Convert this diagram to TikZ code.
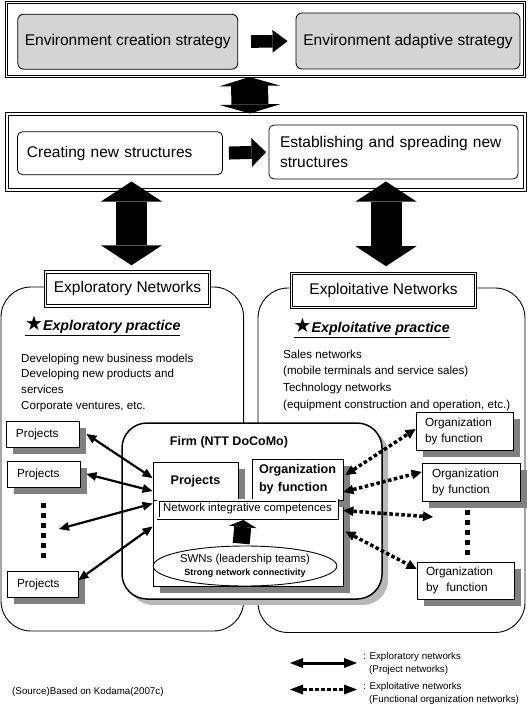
\documentclass[tikz,border=0pt]{standalone}
\usepackage{fontspec}
\setmainfont{Liberation Sans}
\newfontfamily\symfont{DejaVu Sans}
\usetikzlibrary{arrows.meta,shapes.geometric,shadows}

\begin{document}
\begin{tikzpicture}[x=1pt,y=-1pt,
    frame/.style={draw,double,line width=1pt,double distance=1.6pt,inner sep=0pt},
    graybox/.style={draw,fill=black!17,rounded corners=6pt,line width=0.8pt,
      font=\fontsize{15.5}{18}\selectfont},
    plainbox/.style={draw,fill=white,rounded corners=5pt,line width=0.8pt,align=left,
      font=\fontsize{15.5}{20}\selectfont},
    titlebox/.style={draw,double,line width=1pt,double distance=1.4pt,fill=white,
      font=\fontsize{15.5}{18}\selectfont},
    region/.style={draw,rounded corners=30pt,line width=0.9pt},
    practice/.style={inner sep=0pt,font=\fontsize{14.2}{17}\selectfont\bfseries},
    bodytext/.style={inner sep=0pt,align=left,font=\fontsize{11.6}{#1}\selectfont},
    smallbox/.style={draw,fill=white,line width=0.8pt,align=left,inner ysep=0pt,
      drop shadow={shadow xshift=7pt,shadow yshift=-7pt,fill=black!50,opacity=1},
      font=\fontsize{11.8}{16}\selectfont},
    firmbox/.style={draw,fill=white,rounded corners=25pt,line width=1.5pt,
      drop shadow={shadow xshift=6pt,shadow yshift=-6pt,fill=black!28,opacity=1}},
    innerbox/.style={draw,fill=white,line width=0.9pt,inner sep=0pt,
      drop shadow={shadow xshift=7pt,shadow yshift=-7pt,fill=black!50,opacity=1},
      font=\fontsize{12.6}{18}\selectfont\bfseries},
    nicbox/.style={draw,double,line width=0.9pt,double distance=1.2pt,fill=white,inner sep=0pt,
      font=\fontsize{11.4}{13}\selectfont},
    dotline/.style={line width=5pt,dash pattern=on 5pt off 5pt},
    blockarr/.style n args={3}{line width=#1,-{Triangle[length=#2,width=#3,line width=0pt]}},
    dblarr/.style n args={3}{line width=#1,
      {Triangle[length=#2,width=#3,line width=0pt]}-{Triangle[length=#2,width=#3,line width=0pt]}},
    solidarr/.style={line width=2.2pt,
      {Triangle[length=10pt,width=9pt,line width=0pt]}-{Triangle[length=10pt,width=9pt,line width=0pt]}},
    dotarr/.style={line width=3.5pt,dash pattern=on 3.5pt off 2.5pt,
      {Triangle[length=10pt,width=10pt,line width=0pt]}-{Triangle[length=10pt,width=10pt,line width=0pt]}},
    legend/.style={inner sep=0pt,align=left,font=\fontsize{9.8}{12.8}\selectfont}]

  \useasboundingbox (0,0) rectangle (529,706);

  % strategy levels
  \node[frame,minimum width=518pt,minimum height=74pt] (topframe) at (265.5,39.5) {};
  \node[graybox,minimum width=220pt,minimum height=55pt] (ecs) at (127.75,41.7) {Environment creation strategy};
  \node[graybox,minimum width=224pt,minimum height=56pt] (eas) at (408,41) {Environment adaptive strategy};
  \draw[blockarr={12.6pt}{15pt}{22.6pt},shorten <=13pt,shorten >=8pt] (ecs.east) -- (eas.west);

  \node[frame,minimum width=518pt,minimum height=76pt] (midframe) at (266,152) {};
  \node[plainbox,text width=186pt,inner xsep=9.5pt,minimum height=43pt] (cns) at (120,153.2) {Creating new structures};
  \node[plainbox,text width=227pt,inner xsep=11pt,minimum height=54pt] (esn) at (393.5,152) {Establishing and spreading new\\structures};
  \draw[blockarr={13pt}{14.5pt}{29pt},shorten <=6pt,shorten >=2.5pt] (cns.east) -- (esn.west);

  \draw[dblarr={37pt}{9pt}{61pt}] ([xshift=-16pt]topframe.south) -- ([xshift=-16pt]midframe.north);

  % network regions
  \draw[region] (1,287) rectangle (243.6,631);
  \draw[region] (258,288) rectangle (525,632.5);
  \node[titlebox,minimum width=163.6pt,minimum height=34pt] (expl) at (127.5,288.8) {Exploratory Networks};
  \node[titlebox,minimum width=183.6pt,minimum height=33.6pt] (exploit) at (383.5,290.5) {Exploitative Networks};

  \draw[dblarr={31pt}{20pt}{61pt},shorten <=-9pt,shorten >=6pt]
    ([xshift=4pt]expl.north |- midframe.south) -- ([xshift=4pt]expl.north);
  \draw[dblarr={31pt}{20pt}{61pt},shorten <=-9pt,shorten >=7pt]
    ([xshift=2.5pt]exploit.north |- midframe.south) -- ([xshift=2.5pt]exploit.north);

  \node[practice,anchor=west] (eprac) at (25,326)
    {\underline{{\symfont\fontsize{20}{20}\selectfont ★}\textit{Exploratory practice}}};
  \node[practice,anchor=west] (xprac) at (293.5,328)
    {\underline{{\symfont\fontsize{20}{20}\selectfont ★}\textit{Exploitative practice}}};

  \node[bodytext=15.7,anchor=north west] (etext) at (21,353.5)
    {Developing new business models\\Developing new products and\\services\\Corporate ventures, etc.};
  \node[bodytext=16.7,anchor=north west] (xtext) at (283,349.5)
    {Sales networks\\(mobile terminals and service sales)\\Technology networks\\(equipment construction and operation, etc.)};

  % projects
  \node[smallbox,text width=53pt,inner xsep=10pt,minimum height=26pt] (p1) at (42.5,434) {Projects};
  \node[smallbox,text width=53pt,inner xsep=10pt,minimum height=26pt] (p2) at (43.5,474) {Projects};
  \node[smallbox,text width=51pt,inner xsep=10pt,minimum height=26pt] (p3) at (42.5,584) {Projects};
  \draw[dotline] (43,503) -- (43,558);
  \coordinate (pdots) at (59,529);

  % firm
  \node[firmbox,minimum width=260pt,minimum height=176pt] (firm) at (252,511) {};
  \node[font=\fontsize{12.5}{15}\selectfont\bfseries] (firmlbl) at (229,442) {Firm (NTT DoCoMo)};
  \node[innerbox,minimum width=190pt,minimum height=86pt] (low) at (248,543) {};
  \node[innerbox,minimum width=85pt,minimum height=38pt] (fproj) at (195.5,481) {Projects};
  \node[innerbox,text width=77pt,inner xsep=7pt,minimum height=41pt,align=left] (forg) at (297.5,479.5) {Organization\\by function};
  \node[nicbox,minimum width=179pt,minimum height=18pt] (nic) at (247.5,509) {Network integrative competences};
  \node[ellipse,draw,fill=white,line width=0.9pt,minimum width=164pt,minimum height=40pt,inner sep=0pt,
    align=center,font=\fontsize{11.4}{13}\selectfont] (swn) at (245,566)
    {SWNs (leadership teams)\\{\bfseries\fontsize{9}{13}\selectfont Strong network connectivity}};
  \draw[blockarr={17pt}{7pt}{28pt},shorten <=2pt,shorten >=1.5pt] ([xshift=-4pt]swn.north) -- ([xshift=-4pt]nic.south);

  % functional organizations
  \node[smallbox,text width=79pt,inner xsep=9pt,minimum height=38pt] (o1) at (464.5,431) {Organization\\by function};
  \node[smallbox,text width=78pt,inner xsep=10pt,minimum height=38pt] (o2) at (471,482) {Organization\\by function};
  \node[smallbox,text width=79pt,inner xsep=9pt,minimum height=37pt] (o3) at (465.5,580.5) {Organization\\by\ \ function};
  \draw[dotline] (467,510) -- (467,556);
  \coordinate (odots) at (433,517);

  \begin{scope}[solidarr]
    \draw ([xshift=7pt]p1.east) -- ([yshift=3pt]fproj.west);
    \draw ([xshift=6pt]p2.east) -- ([yshift=-10pt]fproj.west);
    \draw (pdots) -- ([yshift=-4pt]low.north west);
    \draw ([yshift=4pt]p3.east) -- ([yshift=-27pt]low.north west);
  \end{scope}
  \begin{scope}[dotarr]
    \draw ([xshift=2pt,yshift=4.5pt]forg.east) -- ([yshift=2pt]o1.west);
    \draw ([yshift=-12.5pt]forg.east) -- ([yshift=10pt]o2.west);
    \draw ([yshift=-11pt]low.north east) -- (odots);
    \draw ([xshift=2pt,yshift=-32pt]low.north east) -- ([yshift=11.5pt]o3.west);
  \end{scope}

  % legend
  \coordinate (la) at (290,663);
  \coordinate (lb) at (357,663);
  \coordinate (lc) at (290,689.5);
  \coordinate (ld) at (357,689.5);
  \draw[line width=3pt,{Triangle[length=13pt,width=10pt,line width=0pt]}-{Triangle[length=13pt,width=10pt,line width=0pt]}] (la) -- (lb);
  \draw[line width=3.5pt,dash pattern=on 3.5pt off 2.5pt,{Triangle[length=13pt,width=10pt,line width=0pt]}-{Triangle[length=13pt,width=10pt,line width=0pt]}] (lc) -- (ld);
  \node[legend,anchor=west] (lgexp) at (363,663.5) {: Exploratory networks\\\hspace*{6pt}(Project networks)};
  \node[legend,anchor=west] (lgexl) at (363,693.5) {: Exploitative networks\\\hspace*{6pt}(Functional organization networks)};
  \node[legend,anchor=west] (src) at (12,691.6) {(Source)Based on Kodama(2007c)};
\end{tikzpicture}
\end{document}
